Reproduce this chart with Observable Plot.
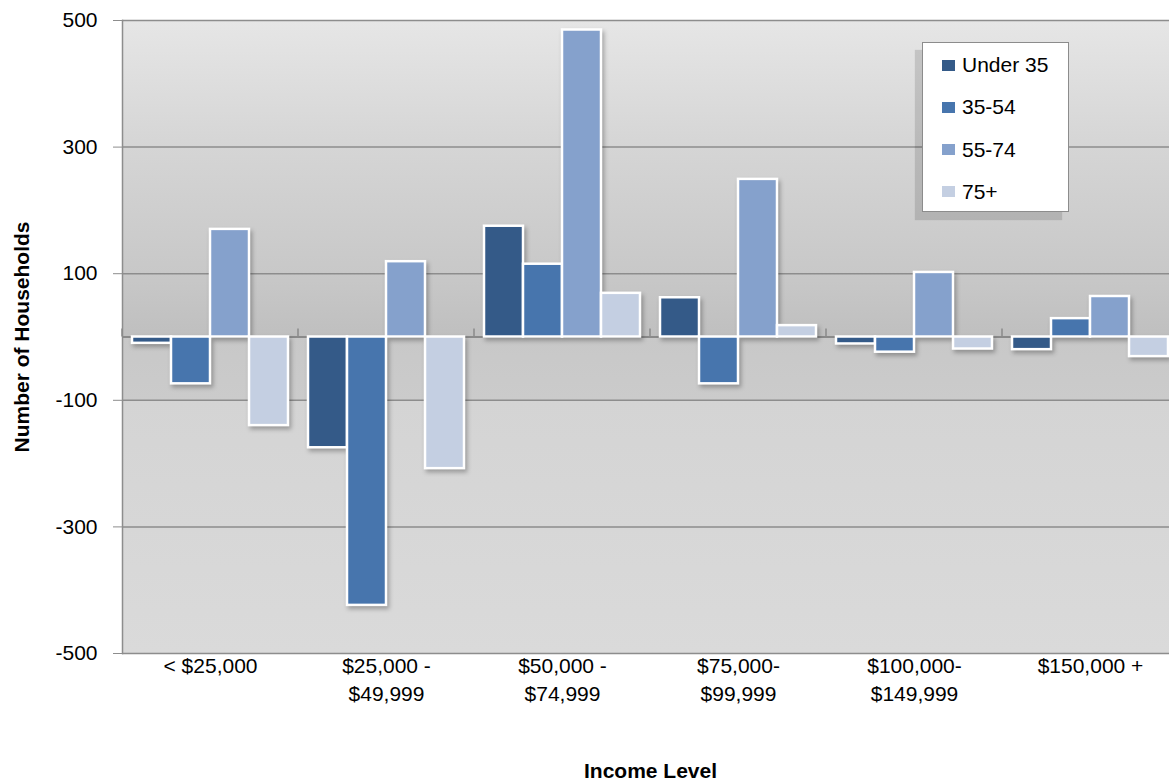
<!DOCTYPE html>
<html>
<head>
<meta charset="utf-8">
<script src="https://cdn.jsdelivr.net/npm/d3@7"></script>
<script src="https://cdn.jsdelivr.net/npm/@observablehq/plot@0.6"></script>
<style>
html, body { margin: 0; padding: 0; background: #fff; overflow: hidden; }
#wrap { position: relative; width: 1169px; height: 783px; overflow: hidden; font-family: "Liberation Sans", Arial, sans-serif; }
#wrap svg { display: block; }
.legend { position: absolute; left: 922px; top: 42px; width: 145px; height: 168px; background: #fff;
  border: 1.5px solid #8c8c8c; box-shadow: -7px 8px 1px rgba(0,0,0,0.13); }
.legend .item { position: absolute; left: 19px; height: 24px; display: flex; align-items: center; font-size: 21px; color: #000; }
.legend .sw { width: 13px; height: 11px; margin-right: 7px; }
</style>
</head>
<body>
<div id="wrap"></div>
<script>
// ---- data ----
const incomeLevels = ["< $25,000", "$25,000 -\n$49,999", "$50,000 -\n$74,999", "$75,000-\n$99,999", "$100,000-\n$149,999", "$150,000 +"];
const ageGroups = ["Under 35", "35-54", "55-74", "75+"];
const under35   = [-10, -175, 175, 62, -11, -20];
const age35to54 = [-74, -424, 115, -74, -24, 29];
const age55to74 = [170, 119, 485, 249, 102, 64];
const age75plus = [-140, -208, 69, 18, -19, -31];
const yTicks = [500, 300, 100, -100, -300, -500];
const colors = ["#345a88", "#4775ad", "#85a1cc", "#c4cfe2"];

const series = [under35, age35to54, age55to74, age75plus];
const rows = incomeLevels.flatMap((inc, i) => ageGroups.map((a, j) => ({income: inc, age: a, value: series[j][i]})));

const font = "Liberation Sans, Arial, sans-serif";

const plot = Plot.plot({
  width: 1169,
  height: 783,
  marginTop: 20,
  marginBottom: 130,
  marginLeft: 122,
  marginRight: 0,
  style: {fontFamily: font, fontSize: "21px", color: "#000", background: "transparent"},
  fx: {domain: incomeLevels, padding: 0, range: [122, 1178], label: null},
  x: {domain: ageGroups, paddingInner: 0, paddingOuter: 0.256, axis: null},
  y: {domain: [-500, 500], label: null},
  color: {domain: ageGroups, range: colors},
  marks: [
    Plot.frame({fill: "url(#bgGrad)", stroke: null, insetLeft: -1, insetRight: -1}),
    Plot.ruleY(yTicks, {stroke: "#8d8d8d", strokeWidth: 1.5}),
    Plot.frame({anchor: "left", facetAnchor: "left", stroke: "#8d8d8d", strokeWidth: 1.5}),
    Plot.ruleY([0], {stroke: "#8a8a8a", strokeWidth: 2}),
    // category separator ticks on the zero line
    (index, scales, values, dims) => {
      const g = d3.create("svg:g");
      const y0 = scales.y(0);
      g.append("line")
        .attr("x1", dims.marginLeft).attr("x2", dims.marginLeft)
        .attr("y1", y0).attr("y2", y0 - 8)
        .attr("stroke", "#8a8a8a").attr("stroke-width", 1.5);
      return g.node();
    },
    Plot.barY(rows, {fx: "income", x: "age", y: "value", fill: "age", stroke: "white", strokeWidth: 2.5, inset: 0}),
    Plot.axisY(yTicks, {tickSize: 9, tickPadding: 16, stroke: "#8d8d8d", fill: "#000", fontSize: 21, label: null, tickFormat: d => String(d)}),
    Plot.axisFx({anchor: "bottom", tickSize: 0, tickPadding: 0, fontSize: 21, lineHeight: 1.33, label: null}),
    Plot.axisFx({anchor: "bottom", tickSize: 0, tickFormat: () => "", label: "Income Level", labelAnchor: "center", labelOffset: 124, fontSize: 21, fontWeight: "bold"}),
    Plot.text(["Number of Households"], {frameAnchor: "left", facetAnchor: "left", rotate: -90, dx: -100, textAnchor: "middle", fontSize: 21, fontWeight: "bold", fill: "#000"})
  ]
});

const svg = d3.select(plot);
svg.insert("defs", ":first-child").html(`
  <linearGradient id="bgGrad" x1="0" y1="0" x2="0" y2="1">
    <stop offset="0" stop-color="#e6e6e6"/>
    <stop offset="0.2" stop-color="#d5d5d5"/>
    <stop offset="0.4" stop-color="#c8c8c8"/>
    <stop offset="0.5" stop-color="#bfbfbf"/>
    <stop offset="0.5" stop-color="#c8c8c8"/>
    <stop offset="0.6" stop-color="#cbcbcb"/>
    <stop offset="0.6" stop-color="#d4d4d4"/>
    <stop offset="1" stop-color="#dadada"/>
  </linearGradient>`);
svg.selectAll('g[aria-label="frame"] rect').attr("shape-rendering", "crispEdges");
svg.selectAll('g[aria-label="bar"]').style("filter", "drop-shadow(2px 3px 2px rgba(0,0,0,0.28))");

const wrap = document.getElementById("wrap");
wrap.appendChild(plot);

// legend overlay using the plot's color scale
const color = plot.scale("color");
const legend = d3.select(wrap).append("div").attr("class", "legend");
ageGroups.forEach((a, i) => {
  const item = legend.append("div").attr("class", "item").style("top", (10 + i * 42.3) + "px");
  item.append("div").attr("class", "sw").style("background", color.apply(a));
  item.append("span").text(a);
});
</script>
</body>
</html>
